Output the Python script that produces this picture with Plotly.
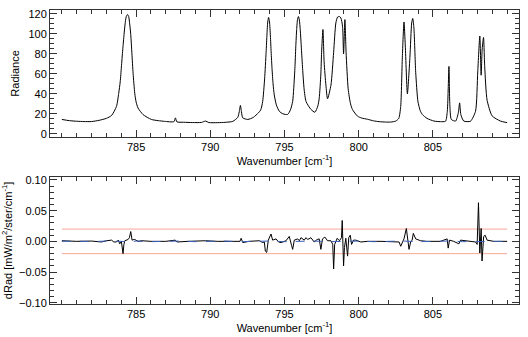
import plotly.graph_objects as go

# ---------------- data ----------------
wn_top = [780.0, 780.5, 781.0, 781.5, 782.0, 782.5, 783.0, 783.35, 783.68, 783.83, 783.93, 784.01, 784.10, 784.19,
          784.26, 784.33, 784.42, 784.50, 784.57, 784.64, 784.72, 784.80, 784.91, 785.0, 785.13, 785.47, 786.03,
          786.5, 786.92, 787.55, 787.65, 787.75, 788.2, 788.8, 789.4, 789.68, 789.9, 790.5, 791.0, 791.52, 791.85,
          791.95, 792.03, 792.1, 792.19, 792.53, 792.9, 793.24, 793.4, 793.53, 793.66, 793.76, 793.82, 793.87,
          793.93, 793.99, 794.05, 794.10, 794.16, 794.23, 794.31, 794.45, 794.65, 794.9, 795.21, 795.4, 795.55,
          795.62, 795.70, 795.76, 795.82, 795.88, 795.94, 796.00, 796.06, 796.14, 796.22, 796.32, 796.45, 796.78,
          797.05, 797.25, 797.34, 797.45, 797.50, 797.59, 797.67, 797.79, 797.90, 798.13, 798.31, 798.46, 798.58,
          798.70, 798.80, 798.91, 798.98, 799.07, 799.15, 799.29, 799.45, 799.58, 799.92, 800.2, 800.59, 801.0,
          801.37, 801.8, 802.16, 802.5, 802.7, 802.83, 802.94, 803.05, 803.14, 803.28, 803.45, 803.57, 803.64,
          803.72, 803.84, 803.99, 804.15, 804.29, 804.6, 805.07, 805.5, 805.85, 805.97, 806.03, 806.08, 806.14,
          806.24, 806.53, 806.71, 806.80, 806.88, 807.08, 807.53, 807.87, 808.02, 808.16, 808.25, 808.32, 808.41,
          808.49, 808.65, 808.99, 809.55, 810.0]
radiance = [14.4, 13.2, 12.6, 12.3, 12.3, 13.5, 15.5, 18.4, 27.5, 40.6, 52.0, 66.9, 84.0, 99.6,
            110.0, 117.0, 119.5, 117.5, 110.0, 99.6, 80.0, 60.3, 40.6, 32.0, 25.9, 19.3, 14.4,
            13.2, 12.5, 12.2, 16.0, 12.0, 11.6, 11.3, 11.4, 12.8, 11.3, 11.2, 11.5, 12.5, 16.5,
            22.0, 28.5, 22.0, 16.0, 14.4, 16.5, 21.0, 24.0, 32.4, 55.0, 81.6, 100.0, 112.0,
            116.5, 112.0, 98.0, 82.0, 65.2, 50.0, 39.0, 29.0, 22.6, 20.0, 19.4, 24.0, 32.4,
            45.0, 65.2, 87.0, 104.5, 115.0, 117.5, 114.0, 104.5, 85.0, 65.2, 45.0, 32.4, 24.5,
            21.6, 28.0, 35.7, 60.0, 81.6, 104.5, 71.8, 48.8, 35.1, 48.8, 81.6, 111.0, 117.0,
            117.5, 116.0, 107.8, 80.0, 114.4, 81.6, 45.0, 30.0, 24.3, 17.7, 15.8, 14.6, 13.0,
            12.2, 11.8, 11.8, 12.8, 15.5, 27.5, 76.7, 112.0, 88.0, 40.0, 76.7, 111.0, 115.5,
            106.0, 61.6, 32.4, 23.0, 19.3, 15.5, 12.8, 12.2, 12.6, 22.6, 45.0, 67.5, 29.2,
            14.4, 12.8, 21.0, 31.0, 19.3, 12.8, 12.6, 22.6, 61.9, 98.0, 58.7, 85.0, 96.5,
            67.0, 33.7, 18.0, 12.8, 11.2]

wn_res = [780.0, 781.0, 782.0, 782.67, 783.0, 783.35, 783.5, 783.68, 783.8, 783.90, 784.01, 784.12, 784.18, 784.24,
          784.46, 784.55, 784.64, 784.73, 784.85, 784.91, 785.13, 785.4, 786.0, 787.0, 787.64, 787.75, 788.5, 789.68,
          790.5, 791.5, 792.0, 792.08, 792.19, 792.6, 793.31, 793.53, 793.64, 793.71, 793.80, 793.91, 794.05, 794.09,
          794.2, 794.43, 794.6, 794.77, 795.10, 795.32, 795.48, 795.55, 795.66, 795.89, 796.0, 796.11, 796.33, 796.45,
          796.56, 796.78, 797.00, 797.2, 797.34, 797.45, 797.56, 797.72, 797.90, 798.13, 798.25, 798.31, 798.38,
          798.55, 798.7, 798.84, 798.89, 798.93, 798.98, 799.04, 799.13, 799.25, 799.33, 799.43, 799.52, 799.65,
          799.80, 800.14, 800.6, 801.5, 802.16, 802.72, 802.83, 802.95, 803.05, 803.21, 803.3, 803.39, 803.50,
          803.6, 803.68, 803.75, 803.84, 804.17, 804.6, 805.5, 805.96, 806.03, 806.12, 806.4, 806.75, 806.86,
          807.4, 807.87, 807.98, 808.07, 808.16, 808.25, 808.31, 808.42, 808.52, 808.65, 809.10, 810.0]
d_rad = [0.001, 0.0, 0.0005, -0.001, 0.001, 0.002, -0.001, -0.001, 0.002, -0.004, 0.0, -0.020, -0.005, 0.001,
         0.003, 0.006, 0.016, 0.002, 0.003, 0.003, 0.0, 0.001, 0.0, 0.0, 0.002, -0.001, 0.0, 0.001,
         0.0, 0.0, 0.0, 0.005, -0.002, 0.0, 0.001, -0.002, -0.001, -0.016, -0.018, 0.002, 0.008, 0.012,
         0.002, 0.004, -0.001, -0.002, 0.001, 0.008, -0.007, -0.013, 0.002, 0.004, 0.001, 0.006, 0.002, 0.006,
         0.003, 0.006, -0.001, 0.003, 0.004, -0.013, 0.004, 0.007, 0.001, 0.001, -0.005, -0.045, -0.005,
         0.005, 0.001, 0.006, 0.034, 0.002, -0.040, -0.010, 0.005, -0.024, 0.006, 0.010, -0.005, 0.002,
         0.002, -0.001, 0.0, 0.0, 0.0, -0.001, -0.008, -0.002, 0.004, 0.021, 0.0, -0.013, -0.001,
         0.002, 0.013, 0.008, 0.004, 0.001, 0.0, 0.0, 0.004, -0.011, 0.002, 0.0, -0.004, 0.002,
         0.0, -0.001, -0.005, 0.063, -0.019, 0.021, -0.032, 0.008, 0.010, 0.002, 0.0, 0.0]

wn_blue = [780.0, 781.0, 782.0, 783.0, 784.0, 784.5, 785.0, 786.0, 787.0, 788.0, 789.0, 790.0, 791.0, 792.0, 793.0,
           794.0, 795.0, 796.0, 797.0, 798.0, 799.0, 800.0, 801.0, 802.0, 803.0, 804.0, 805.0, 806.0, 807.0,
           808.0, 809.0, 810.0]
d_rad_blue = [0.0, 0.0005, -0.0005, 0.0005, 0.0, -0.001, 0.0005, -0.0005, 0.0, 0.0005, -0.0005, 0.0, 0.0005,
              -0.0005, 0.0, 0.0005, -0.0005, 0.0, 0.0005, -0.0005, 0.0, 0.0005, -0.0005, 0.0, 0.0005, -0.0005,
              0.0, 0.0005, -0.0005, 0.0, 0.0005, 0.0]

limit_level = [0.02, -0.02]
limit_x = [780.0, 810.0]

x_ticks = [785, 790, 795, 800, 805]
y_ticks_top = [0, 20, 40, 60, 80, 100, 120]
y_ticks_bot = [-0.10, -0.05, 0.00, 0.05, 0.10]

# ---------------- figure ----------------
fig = go.Figure()
fig.add_trace(go.Scatter(x=wn_top, y=radiance, mode="lines", line=dict(color="black", width=1, shape="spline", smoothing=0.6),
                         xaxis="x", yaxis="y", showlegend=False))
for lv in limit_level:
    fig.add_trace(go.Scatter(x=limit_x, y=[lv, lv], mode="lines", line=dict(color="#f7a898", width=1),
                             xaxis="x2", yaxis="y2", showlegend=False))
fig.add_trace(go.Scatter(x=wn_res, y=d_rad, mode="lines", line=dict(color="black", width=1),
                         xaxis="x2", yaxis="y2", showlegend=False))
fig.add_trace(go.Scatter(x=wn_blue, y=d_rad_blue, mode="lines", line=dict(color="#3a5fb8", width=1, dash="dash"),
                         xaxis="x2", yaxis="y2", showlegend=False))

axis_common = dict(showgrid=False, zeroline=False, showline=True, linecolor="#333333", linewidth=1,
                   mirror="ticks", ticks="inside", ticklen=7, tickcolor="#333333",
                   tickfont=dict(family="Liberation Sans", size=11, color="black"))
xr = [779.2, 810.8]
fig.update_layout(
    width=528, height=337,
    margin=dict(l=48, r=9, t=7, b=31),
    paper_bgcolor="white", plot_bgcolor="white",
    font=dict(family="Liberation Sans", size=11, color="black"),
    xaxis=dict(**axis_common, domain=[0, 1], anchor="y", range=xr, tickvals=x_ticks,
               minor=dict(dtick=1, tick0=780, ticklen=4, ticks="inside", tickcolor="#333333"),
               title=dict(text="Wavenumber [cm<sup>-1</sup>]", standoff=2, font=dict(size=11))),
    yaxis=dict(**axis_common, domain=[0.5686, 1.0], anchor="x", range=[-3, 124], tickvals=y_ticks_top,
               minor=dict(dtick=5, tick0=0, ticklen=4, ticks="inside", tickcolor="#333333"),
               title=dict(text="Radiance", standoff=6, font=dict(size=11))),
    xaxis2=dict(**axis_common, domain=[0, 1], anchor="y2", range=xr, tickvals=x_ticks,
                minor=dict(dtick=1, tick0=780, ticklen=4, ticks="inside", tickcolor="#333333"),
                title=dict(text="Wavenumber [cm<sup>-1</sup>]", standoff=2, font=dict(size=11))),
    yaxis2=dict(**axis_common, domain=[0.0, 0.4324], anchor="x2", range=[-0.102, 0.105], tickvals=y_ticks_bot,
                tickformat=".2f",
                minor=dict(dtick=0.01, tick0=0, ticklen=4, ticks="inside", tickcolor="#333333"),
                title=dict(text="dRad [mW/m<sup>2</sup>/ster/cm<sup>-1</sup>]", standoff=4, font=dict(size=11))),
)

fig.write_html("out.html")
